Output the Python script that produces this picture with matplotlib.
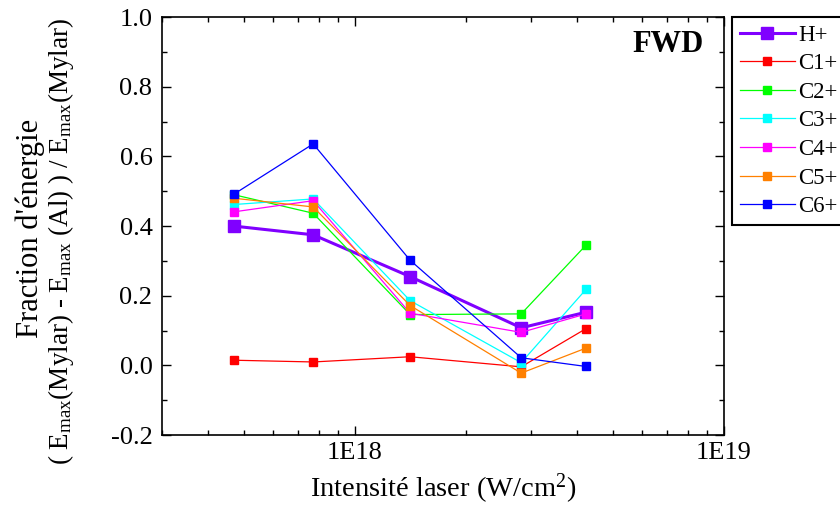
import math
import matplotlib
matplotlib.use("Agg")
import matplotlib.pyplot as plt
from matplotlib.ticker import FixedLocator, FuncFormatter, LogLocator, MultipleLocator, NullFormatter

plt.rcParams['font.family'] = ['Liberation Serif', 'DejaVu Serif']
plt.rcParams['mathtext.fontset'] = 'custom'
plt.rcParams['mathtext.rm'] = 'Liberation Serif'
plt.rcParams['mathtext.it'] = 'Liberation Serif:italic'
plt.rcParams['axes.unicode_minus'] = False

# intensite laser (W/cm2)
intensite = [4.7e17, 7.7e17, 1.41e18, 2.82e18, 4.23e18]

# fraction d'energie par espece
h_plus = [0.40, 0.375, 0.255, 0.108, 0.153]
c1 = [0.015, 0.010, 0.025, -0.004, 0.106]
c2 = [0.490, 0.437, 0.146, 0.148, 0.346]
c3 = [0.462, 0.478, 0.186, 0.008, 0.219]
c4 = [0.441, 0.473, 0.150, 0.095, 0.148]
c5 = [0.480, 0.455, 0.172, -0.022, 0.050]
c6 = [0.492, 0.636, 0.302, 0.022, -0.003]

especes = ['H+', 'C1+', 'C2+', 'C3+', 'C4+', 'C5+', 'C6+']
valeurs = [h_plus, c1, c2, c3, c4, c5, c6]
couleurs = ['#8000ff', '#ff0000', '#00ff00', '#00ffff', '#ff00ff', '#ff8000', '#0000ff']

fig = plt.figure(figsize=(8.4, 5.18), dpi=100)
ax = fig.add_axes([0.193, 0.160, 0.669, 0.807])

for nom, y, c in zip(especes, valeurs, couleurs):
    if nom == 'H+':
        ax.plot(intensite, y, '-s', color=c, lw=2.2, ms=8, label=nom)
    else:
        ax.plot(intensite, y, '-s', color=c, lw=0.9, ms=5.3, label=nom)

ax.set_xscale('log')
ax.set_xlim(3e17, 1e19)
ax.set_ylim(-0.2, 1.0)
ax.xaxis.set_major_locator(FixedLocator([1e18, 1e19]))
ax.xaxis.set_major_formatter(FuncFormatter(lambda v, p: "1E%d" % round(math.log10(v))))
ax.xaxis.set_minor_locator(LogLocator(base=10, subs=range(2, 10)))
ax.xaxis.set_minor_formatter(NullFormatter())
ax.yaxis.set_major_locator(MultipleLocator(0.2))
ax.yaxis.set_minor_locator(MultipleLocator(0.1))
ax.yaxis.set_major_formatter(FuncFormatter(lambda v, p: "%.1f" % v))

ax.tick_params(which='both', direction='in', top=True, right=True, width=1, labelsize=19)
ax.tick_params(which='major', length=6.5)
ax.tick_params(which='minor', length=3.5)
ax.tick_params(axis='x', pad=5)
ax.tick_params(axis='y', pad=7)
for s in ax.spines.values():
    s.set_linewidth(1.2)

ax.set_xlabel("Intensité laser (W/cm$^2$)", fontsize=20.5)
ax.xaxis.set_label_coords(0.5, -0.088)

# label y sur deux lignes (la 2e avec indices plus petits)
fig.text(30 / 840, 1 - 228 / 518, "Fraction d'énergie", rotation=90,
         ha='center', va='center', fontsize=22)
fig.text(61 / 840, 1 - 241 / 518,
         "( E$_{\\rm max}$(Mylar) - E$_{\\rm max}$ (Al) ) / E$_{\\rm max}$(Mylar)",
         rotation=90, ha='center', va='center', fontsize=19.5)

ax.text(0.963, 0.935, "FWD", transform=ax.transAxes, ha='right', va='center',
        fontsize=22, fontweight='bold')

leg = fig.legend(loc='upper left', bbox_to_anchor=(732 / 840, 1 - 17 / 518), borderaxespad=0,
                 fontsize=16.5, fancybox=False, edgecolor='black', framealpha=1,
                 handlelength=2.4, labelspacing=0.33, borderpad=0.33, handletextpad=0.15)
leg.get_frame().set_linewidth(1.5)

fig.savefig("out.png", dpi=100)
